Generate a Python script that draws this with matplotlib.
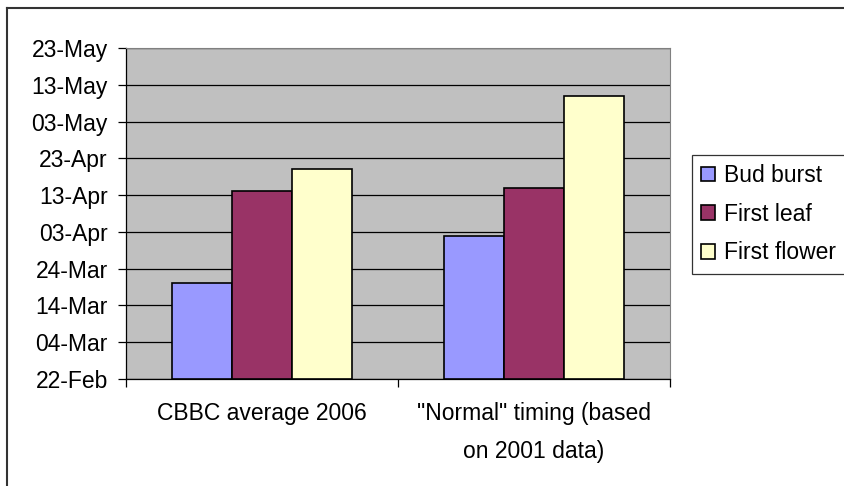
import numpy as np
import matplotlib.pyplot as plt
import matplotlib.dates as mdates
from matplotlib.lines import Line2D
import datetime as dt

plt.rcParams['font.family'] = ['Liberation Sans', 'DejaVu Sans']

stages = ["Bud burst", "First leaf", "First flower"]
groups = ["CBBC average 2006", "\"Normal\" timing (based\non 2001 data)"]
colores = ["#9999FF", "#993366", "#FFFFCC"]

# fechas de cada fase, por grupo
cbbc = ["2006-03-20", "2006-04-14", "2006-04-20"]
normal = ["2006-04-02", "2006-04-15", "2006-05-10"]

inicio = dt.date(2006, 2, 22)
fin = dt.date(2006, 5, 23)
fs = 16.5

def num(s):
    return mdates.date2num(dt.date.fromisoformat(s))

fig = plt.figure(figsize=(8.44, 4.86), dpi=100)
ax = fig.add_axes([126/844, 1-379/486, 544/844, 331/486])
ax.set_facecolor("#C0C0C0")

base = mdates.date2num(inicio)
datos = np.array([[num(s) for s in cbbc], [num(s) for s in normal]])
ancho = 0.22
x = np.arange(len(groups)) + 0.5
for i, st in enumerate(stages):
    ax.bar(x + (i-1)*ancho, datos[:, i]-base, width=ancho, bottom=base,
           color=colores[i], edgecolor="black", linewidth=1.2, label=st, zorder=3)

ax.set_xlim(0, 2)
ax.set_ylim(base, mdates.date2num(fin))
ticks = [mdates.date2num(inicio + dt.timedelta(days=10*k)) for k in range(10)]
ax.set_yticks(ticks)
ax.yaxis.set_major_formatter(mdates.DateFormatter("%d-%b"))
ax.grid(axis="y", color="black", linewidth=0.9, zorder=0)
ax.tick_params(axis="y", direction="out", length=6, width=0.9, labelsize=fs, pad=7)

# separadores de categorias en el eje x
ax.set_xticks([0, 1, 2])
ax.set_xticklabels([])
ax.tick_params(axis="x", direction="out", length=6, width=0.9)
for xi, g in zip(x, groups):
    ax.text(xi, -0.068, g, transform=ax.get_xaxis_transform(), ha="center", va="top",
            fontsize=fs, linespacing=1.85)

for lado in ["top", "right"]:
    ax.spines[lado].set_color("#808080")
for lado in ["left", "bottom"]:
    ax.spines[lado].set_color("black")
    ax.spines[lado].set_linewidth(0.9)

leg = fig.legend(loc="upper left", bbox_to_anchor=(692/844, 1-155/486), fontsize=fs,
                 frameon=True, fancybox=False, edgecolor="black", handlelength=0.6,
                 handleheight=0.6, handletextpad=0.4, labelspacing=0.68,
                 borderpad=0.4, borderaxespad=0)
leg.get_frame().set_linewidth(0.9)

# marco exterior del grafico
fig.add_artist(Line2D([7/844, 7/844], [0, 1-8/486], color="#333333", linewidth=1.5,
                      transform=fig.transFigure))
fig.add_artist(Line2D([7/844, 1], [1-8/486, 1-8/486], color="#333333", linewidth=1.5,
                      transform=fig.transFigure))

plt.savefig("out.png")
